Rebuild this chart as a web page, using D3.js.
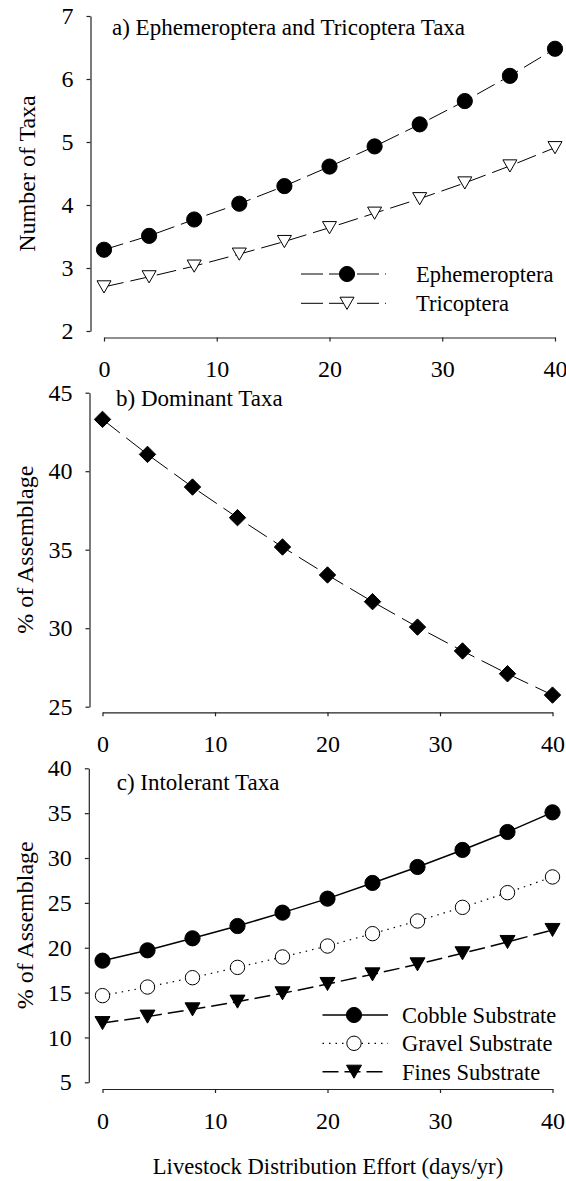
<!DOCTYPE html>
<html><head><meta charset="utf-8">
<script src="https://cdn.jsdelivr.net/npm/d3@7"></script>
<style>
html,body{margin:0;padding:0;background:#fff;}
svg{display:block;}
text{font-family:"Liberation Serif","Times New Roman",serif;fill:#000;}
</style></head>
<body>
<svg id="chart" width="566" height="1181"></svg>
<script>
// ---- data ----
const effort = [0, 4, 8, 12, 16, 20, 24, 28, 32, 36, 40];
const ephemeroptera = [3.29, 3.51, 3.77, 4.02, 4.30, 4.61, 4.93, 5.28, 5.65, 6.05, 6.48];
const tricoptera = [2.70, 2.86, 3.03, 3.22, 3.42, 3.64, 3.87, 4.10, 4.35, 4.62, 4.91];
const dominant = [43.30, 41.07, 38.99, 37.04, 35.17, 33.39, 31.69, 30.07, 28.55, 27.10, 25.74];
const cobble = [18.56, 19.71, 21.05, 22.42, 23.91, 25.47, 27.22, 29.00, 30.90, 32.90, 35.09];
const gravel = [14.66, 15.62, 16.66, 17.81, 18.97, 20.19, 21.57, 22.98, 24.50, 26.14, 27.89];
const fines = [11.60, 12.32, 13.13, 13.99, 14.92, 15.96, 17.03, 18.15, 19.38, 20.64, 21.98];
const xTicks = [0, 10, 20, 30, 40];
const yTicksA = [2, 3, 4, 5, 6, 7];
const yTicksB = [25, 30, 35, 40, 45];
const yTicksC = [5, 10, 15, 20, 25, 30, 35, 40];
const titles = ["a) Ephemeroptera and Tricoptera Taxa", "b) Dominant Taxa", "c) Intolerant Taxa"];
const yTitles = ["Number of Taxa", "% of Assemblage", "% of Assemblage"];
const xTitle = "Livestock Distribution Effort (days/yr)";
const legendA = ["Ephemeroptera", "Tricoptera"];
const legendC = ["Cobble Substrate", "Gravel Substrate", "Fines Substrate"];

const svg = d3.select("#chart");
const FS_TICK = 24, FS_TITLE = 23, FS_AX = 24, FS_LEG = 22.5;

function panel(cfg) {
  const x = d3.scaleLinear().domain([0, 40]).range([cfg.x0, cfg.x1]);
  const y = d3.scaleLinear().domain(cfg.yDomain).range([cfg.yBottom, cfg.yTop]);
  const g = svg.append("g");
  // y axis
  const ya = g.append("g").attr("transform", `translate(${cfg.yAxisX},0)`)
    .call(d3.axisLeft(y).tickValues(cfg.yTicks).tickSize(4).tickSizeOuter(0).tickPadding(13).tickFormat(d3.format("d")));
  // x axis
  const xa = g.append("g").attr("transform", `translate(0,${cfg.xAxisY})`)
    .call(d3.axisBottom(x).tickValues(xTicks).tickSize(4).tickSizeOuter(0).tickPadding(18.5).tickFormat(d3.format("d")));
  [ya, xa].forEach(a => {
    a.selectAll("path.domain").attr("stroke", "#222").attr("stroke-width", 1.2);
    a.selectAll(".tick line").attr("stroke", "#222").attr("stroke-width", 1.2);
    a.selectAll("text").attr("font-size", FS_TICK).attr("font-family", '"Liberation Serif",serif').attr("fill", "#000");
  });
  // title
  g.append("text").attr("x", cfg.titleX).attr("y", cfg.titleY).attr("font-size", FS_TITLE).text(cfg.title);
  // y title
  g.append("text").attr("transform", `translate(${cfg.yTitleX},${(cfg.yTop + cfg.yBottom) / 2}) rotate(-90)`)
    .attr("text-anchor", "middle").attr("font-size", FS_AX).text(cfg.yTitle);
  return {x, y, g};
}

function series(p, vals, line, marker) {
  const pts = effort.map((e, i) => [p.x(e), p.y(vals[i])]);
  p.g.append("path").attr("d", d3.line()(pts)).attr("fill", "none")
    .attr("stroke", "#000").attr("stroke-width", line.w).attr("stroke-dasharray", line.dash);
  p.g.selectAll(null).data(pts).enter().append("path")
    .attr("transform", d => `translate(${d[0]},${d[1]})`)
    .attr("d", marker.d).attr("fill", marker.fill).attr("stroke", "#000").attr("stroke-width", 1);
}

const circle = d3.symbol().type(d3.symbolCircle).size(Math.PI * 7.6 * 7.6)();
const circleO = d3.symbol().type(d3.symbolCircle).size(Math.PI * 7.2 * 7.2)();
function triDown(w) { const h = w * 0.87; return `M${-w/2},${-h/2}L${w/2},${-h/2}L0,${h/2}Z`; }
function diamond(r) { return `M0,${-r}L${r},0L0,${r}L${-r},0Z`; }

// panel a
const pa = panel({x0: 104, x1: 555, yDomain: [2, 7], yBottom: 331, yTop: 16, yAxisX: 90.5, xAxisY: 337.5,
  yTicks: yTicksA, title: titles[0], titleX: 112, titleY: 35, yTitle: yTitles[0], yTitleX: 35});
const dashA = "20,7";
series(pa, ephemeroptera, {w: 1, dash: dashA}, {d: circle, fill: "#000"});
series(pa, tricoptera, {w: 1, dash: dashA}, {d: triDown(14), fill: "#fff"});

// panel b
const pb = panel({x0: 102.5, x1: 552.5, yDomain: [25, 45], yBottom: 706.7, yTop: 392.7, yAxisX: 89.5, xAxisY: 712.3,
  yTicks: yTicksB, title: titles[1], titleX: 116, titleY: 406, yTitle: yTitles[1], yTitleX: 33});
series(pb, dominant, {w: 1, dash: "22,8"}, {d: diamond(8.2), fill: "#000"});

// panel c
const pc = panel({x0: 102.5, x1: 552.5, yDomain: [5, 40], yBottom: 1082.3, yTop: 768.3, yAxisX: 88.8, xAxisY: 1089,
  yTicks: yTicksC, title: titles[2], titleX: 116.7, titleY: 790, yTitle: yTitles[2], yTitleX: 33});
series(pc, cobble, {w: 1.5, dash: null}, {d: circle, fill: "#000"});
series(pc, gravel, {w: 1.2, dash: "1.5,5"}, {d: circleO, fill: "#fff"});
series(pc, fines, {w: 1.5, dash: "16,6"}, {d: triDown(15), fill: "#000"});

// x title
svg.append("text").attr("x", 328).attr("y", 1174).attr("text-anchor", "middle").attr("font-size", 22.6).text(xTitle);

// legends
function legendRow(x1, x2, xm, xt, yy, name, line, marker) {
  const g = svg.append("g");
  g.append("line").attr("x1", x1).attr("x2", x2).attr("y1", yy).attr("y2", yy)
    .attr("stroke", "#000").attr("stroke-width", line.w).attr("stroke-dasharray", line.dash);
  g.append("path").attr("transform", `translate(${xm},${yy})`).attr("d", marker.d)
    .attr("fill", marker.fill).attr("stroke", "#000");
  g.append("text").attr("x", xt).attr("y", yy + 8).attr("font-size", FS_LEG).text(name);
}
const legDashA = "22,6";
legendRow(301, 386, 347, 416, 274, legendA[0], {w: 1, dash: legDashA}, {d: circle, fill: "#000"});
legendRow(301, 386, 347, 416, 303.3, legendA[1], {w: 1, dash: legDashA}, {d: triDown(14), fill: "#fff"});
legendRow(322.5, 388, 354, 402, 1015, legendC[0], {w: 1.5, dash: null}, {d: circle, fill: "#000"});
legendRow(322.5, 388, 354, 402, 1043.3, legendC[1], {w: 1.2, dash: "1.5,5"}, {d: circleO, fill: "#fff"});
legendRow(322.5, 388, 354, 402, 1071.7, legendC[2], {w: 1.5, dash: "16,6"}, {d: triDown(15), fill: "#000"});
</script>
</body></html>
